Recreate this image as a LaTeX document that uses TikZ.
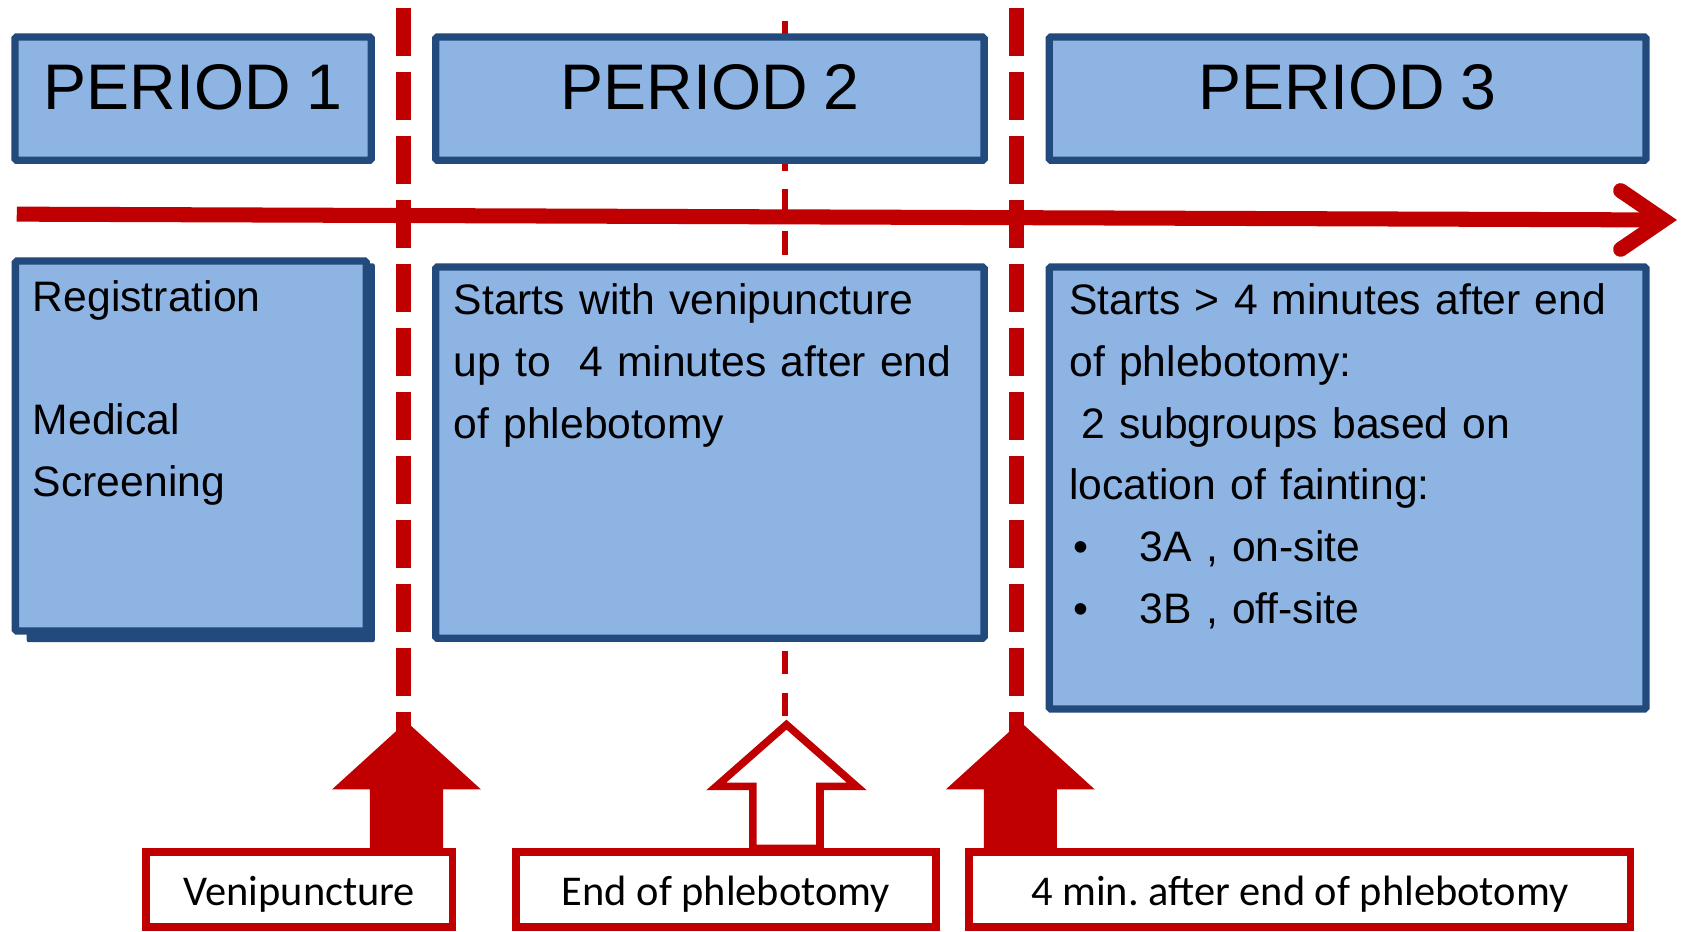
\documentclass[tikz,border=0pt]{standalone}
\usepackage{fontspec}
\usetikzlibrary{fit}
\newfontfamily\arialfont[WordSpace={0.87,0,0}]{Liberation Sans}
\newfontfamily\calfont{Carlito}
\definecolor{tred}{RGB}{192,0,0}
\definecolor{bfill}{RGB}{142,180,227}
\definecolor{bline}{RGB}{35,74,125}
\frenchspacing
\begin{document}
\begin{tikzpicture}[x=1pt,y=-1pt,
  pbox/.style={draw=bline, fill=bfill, line width=6.8pt, rounded corners=1.5pt, inner sep=0pt},
  pshadow/.style={fill=bline, rounded corners=2pt, inner sep=0pt},
  lbox/.style={draw=tred, fill=white, line width=7pt, inner sep=0pt},
  title/.style={font=\arialfont\fontsize{60}{70}\selectfont, anchor=base, inner sep=0pt},
  body/.style={font=\arialfont\fontsize{39.7}{57.4}\selectfont, anchor=north west, inner sep=0pt, align=left},
  lbl/.style={font=\calfont\fontsize{39.5}{45}\selectfont, anchor=base, inner sep=0pt},
  thickdash/.style={draw=tred, line width=14pt, dash pattern=on 44.6pt off 15pt},
  thindash/.style={draw=tred, line width=5.8pt, dash pattern=on 22pt off 17.1pt},
  timeline/.style={draw=tred, line width=14pt},
  chevron/.style={draw=tred, line width=14pt, line cap=round, line join=miter, miter limit=10},
  solidarrow/.style={fill=tred},
  hollowarrow/.style={draw=tred, fill=white, line width=7pt, line join=miter, miter limit=10}
]
\useasboundingbox (0,0) rectangle (1568,867);

% event markers (vertical dashed lines)
\coordinate (v1a) at (376,7.8);   \coordinate (v1b) at (376,690);
\coordinate (v2a) at (731,19.5);  \coordinate (v2b) at (731,667.1);
\coordinate (v3a) at (946.6,7.8); \coordinate (v3b) at (946.6,690);
\draw[thickdash] (v1a) -- (v1b);
\draw[thindash]  (v2a) -- (v2b);
\draw[thickdash] (v3a) -- (v3b);

% time axis
\coordinate (t0) at (15.6,199.4);
\coordinate (tv) at (1549,204.8);
\coordinate (tu) at (1509,177.5);
\coordinate (td) at (1509,232.1);
\draw[timeline] (t0) -- (tv);
\draw[chevron] (tu) -- (tv) -- (td);

% period headers
\node[pbox, fit={(14,34.4) (345.6,149.3)}] (p1) {};
\node[pbox, fit={(405.7,34.4) (916.3,149.3)}] (p2) {};
\node[pbox, fit={(976.9,34.4) (1532.6,149.3)}] (p3) {};
\node[title] (h1) at (179.8,102) {PERIOD 1};
\node[title] (h2) at (661,102) {PERIOD 2};
\node[title] (h3) at (1254.8,102) {PERIOD 3};

% period descriptions
\node[pshadow, fit={(24.8,245.2) (349,598)}] (d1s) {};
\node[pbox, fit={(14.3,243) (341.1,587.6)}] (d1) {};
\node[pbox, fit={(405.7,248.6) (916.3,594.3)}] (d2) {};
\node[pbox, fit={(976.9,248.6) (1532.6,660.1)}] (d3) {};

\node[body, text width=300pt] (b1) at (30.5,257.5)
  {\rule{0pt}{32pt}Registration\\[57.4pt]Medical\\Screening};
\node[body, text width=490pt] (b2) at (422.3,261)
  {\rule{0pt}{32pt}Starts with venipuncture\\up to\ \ 4 minutes after end\\of phlebotomy};
\node[body, text width=540pt] (b3) at (995.5,261)
  {\rule{0pt}{32pt}Starts > 4 minutes after end\\of phlebotomy:\\\hspace*{11pt}2 subgroups based on\\location of fainting:\\\makebox[65.5pt][l]{\hspace{4pt}•}3A , on-site\\\makebox[65.5pt][l]{\hspace{4pt}•}3B , off-site};

% block arrows pointing at the markers
\coordinate (a1) at (378.5,790);
\coordinate (a2) at (732.3,790);
\coordinate (a3) at (950,790);
\fill[solidarrow, shift={(a1)}] (-34,0) -- (-34,-55.1) -- (-69.2,-55.1) -- (0,-118) -- (69.2,-55.1) -- (34,-55.1) -- (34,0) -- cycle;
\filldraw[hollowarrow, shift={(a2)}] (-31.2,0) -- (-31.2,-57.7) -- (-65.5,-57.7) -- (0,-115.3) -- (65.5,-57.7) -- (31.2,-57.7) -- (31.2,0) -- cycle;
\fill[solidarrow, shift={(a3)}] (-34,0) -- (-34,-55.1) -- (-69.2,-55.1) -- (0,-118) -- (69.2,-55.1) -- (34,-55.1) -- (34,0) -- cycle;

% event labels
\node[lbox, fit={(135.8,793.5) (421.5,863)}] (l1) {};
\node[lbox, fit={(480.5,793.5) (871.5,863)}] (l2) {};
\node[lbox, fit={(902.4,793.5) (1518.2,863)}] (l3) {};
\node[lbl] (e1) at (278.65,843) {Venipuncture};
\node[lbl] (e2) at (676,843) {End of phlebotomy};
\node[lbl] (e3) at (1210.3,843) {4 min. after end of phlebotomy};
\end{tikzpicture}
\end{document}
